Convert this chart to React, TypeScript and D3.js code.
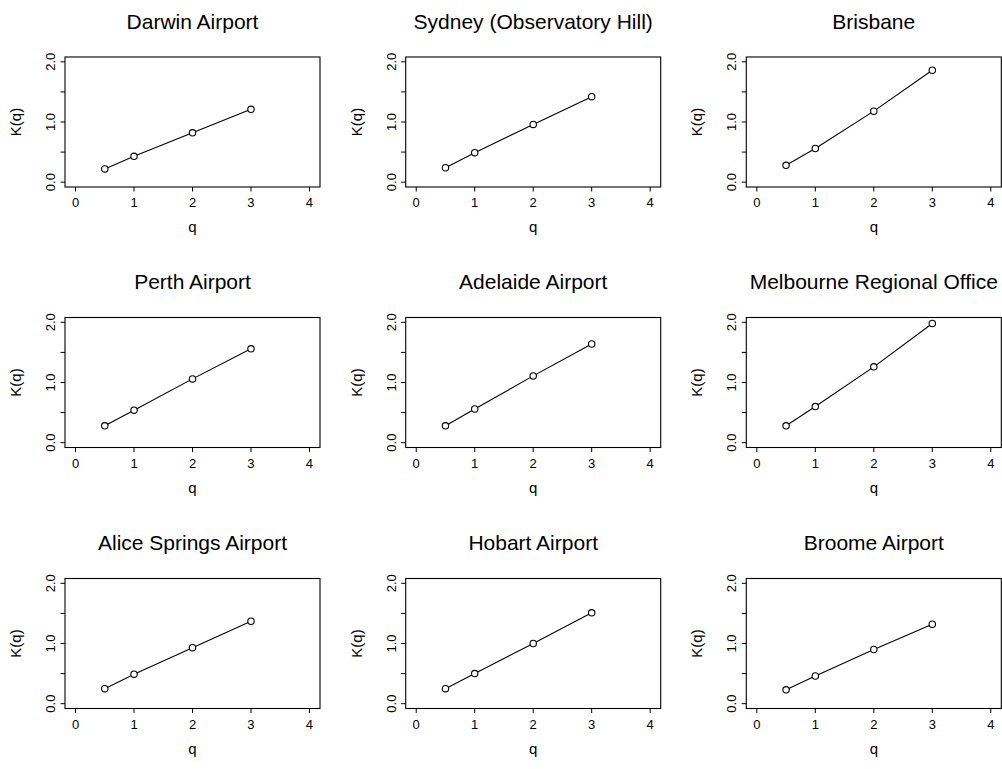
import React, { useEffect, useRef } from "react";
import * as d3 from "d3";

// multifractal moment scaling K(q) per station
const stations = [
  "Darwin Airport",
  "Sydney (Observatory Hill)",
  "Brisbane",
  "Perth Airport",
  "Adelaide Airport",
  "Melbourne Regional Office",
  "Alice Springs Airport",
  "Hobart Airport",
  "Broome Airport",
];
const qValues = [0.5, 1, 2, 3];
const darwinK = [0.22, 0.43, 0.82, 1.21];
const sydneyK = [0.24, 0.49, 0.96, 1.42];
const brisbaneK = [0.28, 0.56, 1.18, 1.86];
const perthK = [0.28, 0.54, 1.06, 1.56];
const adelaideK = [0.28, 0.56, 1.11, 1.64];
const melbourneK = [0.28, 0.6, 1.26, 1.98];
const aliceK = [0.25, 0.49, 0.93, 1.37];
const hobartK = [0.25, 0.5, 1.0, 1.51];
const broomeK = [0.23, 0.46, 0.9, 1.32];
const seriesK = [darwinK, sydneyK, brisbaneK, perthK, adelaideK, melbourneK, aliceK, hobartK, broomeK];

const xTicks = [0, 1, 2, 3, 4];
const yTicks = [0, 0.5, 1, 1.5, 2];
const yTickLabels = ["0.0", "", "1.0", "", "2.0"];

const W = 1002;
const H = 769;
const FONT = "'Liberation Sans', Arial, sans-serif";

export default function App() {
  const ref = useRef<SVGSVGElement>(null);

  useEffect(() => {
    const svg = d3.select(ref.current);
    svg.selectAll("*").remove();
    svg.append("rect").attr("width", W).attr("height", H).attr("fill", "white");

    const boxW = 255;
    const boxH = 130;
    const colLeft = [65, 405.7, 746.3];
    const rowTop = [57, 317.5, 578.5];

    stations.forEach((name, i) => {
      const left = colLeft[i % 3];
      const top = rowTop[Math.floor(i / 3)];
      const x = d3.scaleLinear().domain([-0.18, 4.18]).range([left, left + boxW]);
      const y = d3.scaleLinear().domain([-0.08, 2.08]).range([top + boxH, top]);
      const g = svg.append("g");

      g.append("text")
        .attr("x", left + boxW / 2)
        .attr("y", top - 28.5)
        .attr("text-anchor", "middle")
        .style("font-family", FONT)
        .style("font-size", "21px")
        .text(name);

      g.append("rect")
        .attr("x", left)
        .attr("y", top)
        .attr("width", boxW)
        .attr("height", boxH)
        .attr("fill", "none")
        .attr("stroke", "black")
        .attr("stroke-width", 1.1);

      // x axis ticks and labels
      xTicks.forEach(t => {
        g.append("line")
          .attr("x1", x(t)).attr("x2", x(t))
          .attr("y1", top + boxH).attr("y2", top + boxH + 4.5)
          .attr("stroke", "black");
        g.append("text")
          .attr("x", x(t))
          .attr("y", top + boxH + 20)
          .attr("text-anchor", "middle")
          .style("font-family", FONT)
          .style("font-size", "13px")
          .text(String(t));
      });

      // y axis ticks and rotated labels
      yTicks.forEach((t, k) => {
        g.append("line")
          .attr("x1", left - 4.5).attr("x2", left)
          .attr("y1", y(t)).attr("y2", y(t))
          .attr("stroke", "black");
        if (yTickLabels[k]) {
          g.append("text")
            .attr("transform", `translate(${left - 10},${y(t)}) rotate(-90)`)
            .attr("text-anchor", "middle")
            .style("font-family", FONT)
            .style("font-size", "13px")
            .text(yTickLabels[k]);
        }
      });

      g.append("text")
        .attr("x", left + boxW / 2)
        .attr("y", top + boxH + 45)
        .attr("text-anchor", "middle")
        .style("font-family", FONT)
        .style("font-size", "15px")
        .text("q");

      g.append("text")
        .attr("transform", `translate(${left - 44},${top + boxH / 2}) rotate(-90)`)
        .attr("text-anchor", "middle")
        .style("font-family", FONT)
        .style("font-size", "15px")
        .text("K(q)");

      const pts = qValues.map((q, k) => [q, seriesK[i][k]] as [number, number]);
      const line = d3.line<[number, number]>().x(d => x(d[0])).y(d => y(d[1]));

      g.append("path")
        .attr("d", line(pts))
        .attr("fill", "none")
        .attr("stroke", "black")
        .attr("stroke-width", 1.1);

      g.selectAll("circle.pt")
        .data(pts)
        .enter()
        .append("circle")
        .attr("class", "pt")
        .attr("cx", d => x(d[0]))
        .attr("cy", d => y(d[1]))
        .attr("r", 3.2)
        .attr("fill", "white")
        .attr("stroke", "black")
        .attr("stroke-width", 1.1);
    });
  }, []);

  return (
    <svg
      ref={ref}
      width={W}
      height={H}
      style={{ position: "absolute", left: 0, top: 0, display: "block" }}
    />
  );
}
